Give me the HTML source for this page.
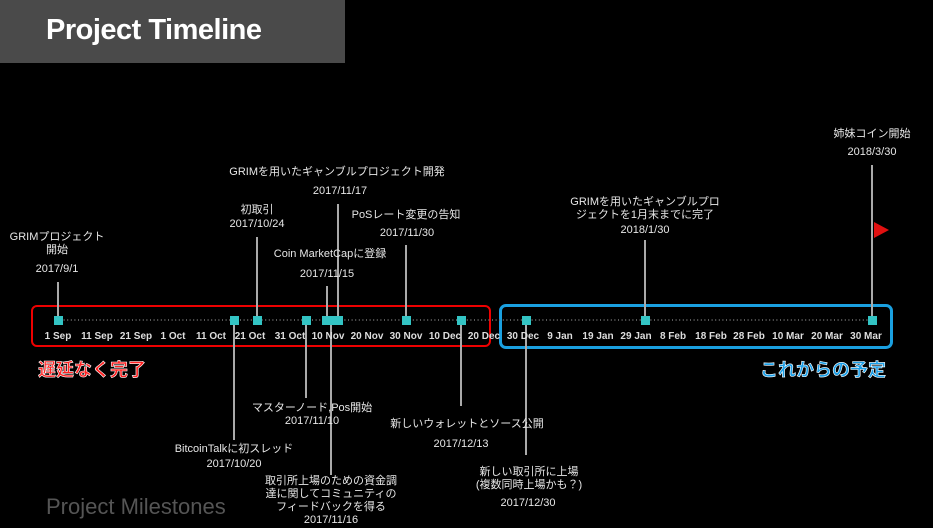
<!DOCTYPE html>
<html><head><meta charset="utf-8"><style>
body{margin:0;width:933px;height:528px;background:#000;overflow:hidden;position:relative;font-family:"Liberation Sans","Noto Sans CJK JP",sans-serif;color:#fff}
.t{position:absolute;font-size:11px;text-align:center;white-space:nowrap;transform:translateX(-50%);line-height:13px;color:#e6e6e6}
.v{position:absolute;width:2px;background:#aaa}
.m{position:absolute;width:9px;height:9px;background:#33c4c4;top:316px}
.a{position:absolute;top:331px;font-size:10px;font-weight:bold;color:#ddd;transform:translateX(-50%);white-space:nowrap}
</style></head><body>
<div style="position:absolute;left:0;top:0;width:345px;height:63px;background:#4a4a4a"></div>
<div style="position:absolute;left:46px;top:14px;font-size:29px;font-weight:bold;letter-spacing:-0.5px">Project Timeline</div>
<div style="position:absolute;left:46px;top:494px;font-size:22px;color:#555">Project Milestones</div>

<div style="position:absolute;left:31px;top:305px;width:456px;height:38px;border:2.5px solid #e00;border-radius:6px"></div>
<div style="position:absolute;left:499px;top:304px;width:388px;height:39px;border:3px solid #1aa0e0;border-radius:7px"></div>

<svg style="position:absolute;left:0;top:0" width="933" height="528">
<line x1="60" y1="320" x2="873" y2="320" stroke="#777" stroke-width="1.5" stroke-dasharray="1 2.6"/>
<polygon points="874,222 889,230 874,238" fill="#e01010"/>
</svg>

<div class="v" style="left:57px;top:282px;height:38px"></div>
<div class="v" style="left:256px;top:237px;height:83px"></div>
<div class="v" style="left:326px;top:286px;height:34px"></div>
<div class="v" style="left:337px;top:204px;height:116px"></div>
<div class="v" style="left:405px;top:245px;height:75px"></div>
<div class="v" style="left:644px;top:240px;height:80px"></div>
<div class="v" style="left:871px;top:165px;height:155px"></div>
<div class="v" style="left:233px;top:320px;height:120px"></div>
<div class="v" style="left:305px;top:320px;height:78px"></div>
<div class="v" style="left:330px;top:320px;height:155px"></div>
<div class="v" style="left:460px;top:320px;height:86px"></div>
<div class="v" style="left:525px;top:320px;height:135px"></div>

<div class="m" style="left:54px"></div><div class="m" style="left:230px"></div><div class="m" style="left:253px"></div>
<div class="m" style="left:302px"></div><div class="m" style="left:322px"></div><div class="m" style="left:328px"></div>
<div class="m" style="left:334px"></div><div class="m" style="left:402px"></div><div class="m" style="left:457px"></div>
<div class="m" style="left:522px"></div><div class="m" style="left:641px"></div><div class="m" style="left:868px"></div>

<div class="a" style="left:58px">1 Sep</div><div class="a" style="left:97px">11 Sep</div><div class="a" style="left:136px">21 Sep</div>
<div class="a" style="left:173px">1 Oct</div><div class="a" style="left:211px">11 Oct</div><div class="a" style="left:250px">21 Oct</div>
<div class="a" style="left:290px">31 Oct</div><div class="a" style="left:328px">10 Nov</div><div class="a" style="left:367px">20 Nov</div>
<div class="a" style="left:406px">30 Nov</div><div class="a" style="left:445px">10 Dec</div><div class="a" style="left:484px">20 Dec</div>
<div class="a" style="left:523px">30 Dec</div><div class="a" style="left:560px">9 Jan</div><div class="a" style="left:598px">19 Jan</div>
<div class="a" style="left:636px">29 Jan</div><div class="a" style="left:673px">8 Feb</div><div class="a" style="left:711px">18 Feb</div>
<div class="a" style="left:749px">28 Feb</div><div class="a" style="left:788px">10 Mar</div><div class="a" style="left:827px">20 Mar</div>
<div class="a" style="left:866px">30 Mar</div>

<div style="position:absolute;left:38px;top:356px;font-size:18px;font-weight:bold;color:#f22;-webkit-text-stroke:0.6px #fff">遅延なく完了</div>
<div style="position:absolute;left:760px;top:356px;font-size:18px;font-weight:bold;color:#1a9fe8;-webkit-text-stroke:0.6px #fff">これからの予定</div>

<div class="t" style="left:57px;top:231px">GRIMプロジェクト<br>開始</div>
<div class="t" style="left:57px;top:263px">2017/9/1</div>
<div class="t" style="left:257px;top:204px">初取引</div>
<div class="t" style="left:257px;top:218px">2017/10/24</div>
<div class="t" style="left:337px;top:166px">GRIMを用いたギャンブルプロジェクト開発</div>
<div class="t" style="left:340px;top:185px">2017/11/17</div>
<div class="t" style="left:406px;top:209px">PoSレート変更の告知</div>
<div class="t" style="left:407px;top:227px">2017/11/30</div>
<div class="t" style="left:330px;top:248px">Coin MarketCapに登録</div>
<div class="t" style="left:327px;top:268px">2017/11/15</div>
<div class="t" style="left:645px;top:196px">GRIMを用いたギャンブルプロ<br>ジェクトを1月末までに完了</div>
<div class="t" style="left:645px;top:224px">2018/1/30</div>
<div class="t" style="left:872px;top:128px">姉妹コイン開始</div>
<div class="t" style="left:872px;top:146px">2018/3/30</div>
<div class="t" style="left:312px;top:402px">マスターノード,Pos開始</div>
<div class="t" style="left:312px;top:415px">2017/11/10</div>
<div class="t" style="left:234px;top:443px">BitcoinTalkに初スレッド</div>
<div class="t" style="left:234px;top:458px">2017/10/20</div>
<div class="t" style="left:467px;top:418px">新しいウォレットとソース公開</div>
<div class="t" style="left:461px;top:438px">2017/12/13</div>
<div class="t" style="left:529px;top:466px">新しい取引所に上場<br>(複数同時上場かも？)</div>
<div class="t" style="left:528px;top:497px">2017/12/30</div>
<div class="t" style="left:331px;top:475px">取引所上場のための資金調<br>達に関してコミュニティの<br>フィードバックを得る<br>2017/11/16</div>
</body></html>
